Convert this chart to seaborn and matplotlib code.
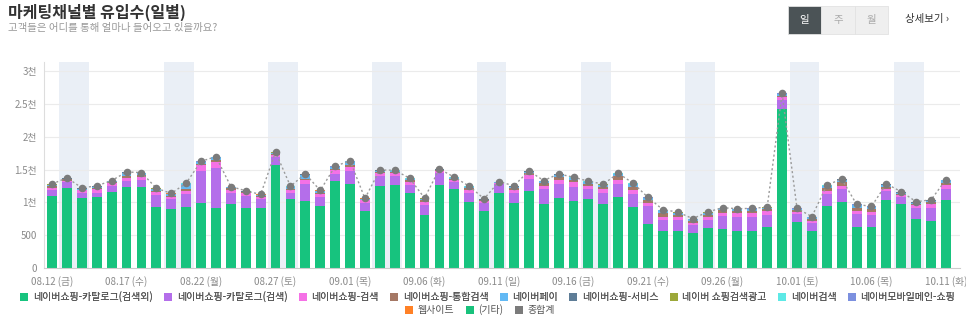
import numpy as np
import pandas as pd
import matplotlib
matplotlib.use("Agg")
import matplotlib.pyplot as plt
from matplotlib.patches import Patch, Rectangle
import seaborn as sns

sns.set_style("white")
plt.rcParams['font.family'] = ['Noto Sans CJK KR', 'DejaVu Sans']

# ---------------- data ----------------
dates = pd.date_range("2022-08-12", "2022-10-11", freq="D").strftime("%m.%d").tolist()

catalog_other = [1096, 1212, 1066, 1081, 1156, 1232, 1237, 924, 894, 929, 990, 909, 980, 909, 909, 1570,
                 1045, 1020, 944, 1323, 1273, 869, 1257, 1262, 1136, 813, 1268, 1207, 1010, 864, 1136,
                 995, 1177, 980, 1060, 1020, 1045, 980, 1081, 929, 667, 561, 561, 540, 606, 596, 561,
                 561, 626, 2419, 697, 566, 939, 1010, 626, 626, 1030, 970, 752, 722, 1030]
catalog_search = [91, 96, 80, 65, 101, 101, 111, 187, 151, 197, 495, 611, 166, 187, 136, 117,
                  91, 263, 137, 116, 212, 126, 142, 137, 126, 141, 181, 106, 136, 131, 147,
                  151, 186, 217, 223, 212, 152, 166, 192, 192, 277, 166, 171, 111, 121, 197, 217,
                  217, 187, 141, 121, 116, 182, 197, 192, 182, 142, 116, 157, 187, 177]
shop_search = [35, 25, 36, 61, 41, 40, 40, 45, 36, 51, 85, 91, 41, 40, 36, 35,
               51, 65, 40, 51, 55, 40, 50, 50, 51, 46, 31, 35, 41, 25, 15,
               41, 51, 60, 65, 76, 60, 51, 75, 61, 51, 56, 46, 41, 51, 50, 55,
               55, 51, 41, 35, 35, 51, 50, 51, 45, 35, 25, 51, 61, 55]
integrated = [26, 18, 10, 15, 12, 24, 24, 18, 18, 20, 20, 40, 25, 17, 14, 20,
              24, 14, 28, 24, 24, 8, 20, 17, 24, 30, 10, 12, 28, 13, 5,
              33, 34, 40, 44, 40, 30, 40, 50, 55, 40, 50, 35, 28, 33, 36, 34,
              36, 30, 26, 24, 30, 44, 50, 50, 40, 34, 20, 20, 30, 40]
naver_pay = [20, 12, 18, 18, 11, 55, 30, 31, 25, 84, 24, 34, 18, 12, 14, 14,
             24, 60, 21, 24, 60, 5, 14, 12, 20, 24, 8, 12, 20, 10, 3,
             20, 20, 24, 30, 24, 24, 29, 34, 44, 29, 44, 28, 20, 30, 28, 25,
             28, 23, 22, 20, 24, 34, 39, 39, 34, 30, 19, 18, 28, 34]
shop_service = [4, 4, 4, 4, 3, 4, 4, 4, 4, 4, 4, 4, 4, 4, 4, 4,
                4, 4, 4, 4, 4, 4, 4, 4, 4, 4, 4, 4, 4, 4, 4,
                4, 4, 4, 4, 4, 4, 4, 4, 4, 4, 4, 4, 4, 4, 4, 4,
                4, 4, 4, 4, 4, 4, 4, 4, 4, 4, 4, 4, 4, 4]
shop_ad = [3, 3, 3, 3, 3, 3, 3, 3, 3, 3, 3, 3, 3, 3, 3, 3,
           3, 3, 3, 3, 3, 3, 3, 3, 3, 3, 3, 3, 3, 3, 3,
           3, 3, 3, 3, 3, 3, 3, 3, 3, 3, 3, 3, 3, 3, 3, 3,
           3, 3, 3, 3, 3, 3, 3, 3, 3, 3, 3, 3, 3, 3]
naver_search = [2, 2, 2, 2, 2, 2, 2, 2, 2, 2, 2, 2, 2, 2, 2, 2,
                2, 2, 2, 2, 2, 2, 2, 2, 2, 2, 2, 2, 2, 2, 2,
                2, 2, 2, 2, 2, 2, 2, 2, 2, 2, 2, 2, 2, 2, 2, 2,
                2, 2, 2, 2, 2, 2, 2, 2, 2, 2, 2, 2, 2, 2]
mobile_main = [2, 2, 2, 2, 2, 2, 2, 2, 2, 2, 2, 2, 2, 2, 2, 2,
               2, 2, 2, 2, 2, 2, 2, 2, 2, 2, 2, 2, 2, 2, 2,
               2, 2, 2, 2, 2, 2, 2, 2, 2, 2, 2, 2, 2, 2, 2, 2,
               2, 2, 2, 2, 2, 2, 2, 2, 2, 2, 2, 2, 2, 2]
website = [1, 1, 1, 1, 1, 1, 1, 1, 1, 1, 1, 1, 1, 1, 1, 1,
           1, 1, 1, 1, 1, 1, 1, 1, 1, 1, 1, 1, 1, 1, 1,
           1, 1, 1, 1, 1, 1, 1, 1, 1, 1, 1, 1, 1, 1, 1, 1,
           1, 1, 1, 1, 1, 1, 1, 1, 1, 1, 1, 1, 1, 1]
etc = [0] * 61

series_names = ["네이버쇼핑-카탈로그(검색외)", "네이버쇼핑-카탈로그(검색)", "네이버쇼핑-검색",
                "네이버쇼핑-통합검색", "네이버페이", "네이버쇼핑-서비스", "네이버 쇼핑검색광고",
                "네이버검색", "네이버모바일메인-쇼핑", "웹사이트", "(기타)"]
series_values = [catalog_other, catalog_search, shop_search, integrated, naver_pay, shop_service,
                 shop_ad, naver_search, mobile_main, website, etc]
series_colors = ["#17C37E", "#B46EEA", "#F571E6", "#A57865", "#62B9F4", "#5E7D97",
                 "#9CA83A", "#5DE9E6", "#7C90DF", "#FF8126", "#18C27C"]
total_name = "종합계"
total_color = "#7B7B7B"

tick_labels = ["08.12 (금)", "08.17 (수)", "08.22 (월)", "08.27 (토)", "09.01 (목)", "09.06 (화)",
               "09.11 (일)", "09.16 (금)", "09.21 (수)", "09.26 (월)", "10.01 (토)", "10.06 (목)",
               "10.11 (화)"]
weekend_starts = ["08.13", "08.20", "08.27", "09.03", "09.10", "09.17", "09.24", "10.01", "10.08"]

ytick_vals = [0, 500, 1000, 1500, 2000, 2500, 3000]
ytick_labels = ["0", "500", "1천", "1.5천", "2천", "2.5천", "3천"]

# ---------------- figure ----------------
fig = plt.figure(figsize=(9.66, 3.24), dpi=100)
ax = fig.add_axes([44 / 966, 1 - 268 / 324, (960 - 44) / 966, (268 - 62) / 324])

idx = np.arange(len(dates))
vals = np.array(series_values, dtype=float)
cum = np.cumsum(vals, axis=0)
total = cum[-1]

# weekend shading
for d in weekend_starts:
    i = dates.index(d)
    ax.axvspan(i - 0.5, i + 1.5, color="#EAEFF6", zorder=0, lw=0)

# horizontal grid
for v in ytick_vals[1:]:
    ax.axhline(v, color="#EBEBEB", lw=0.8, zorder=0.5)

# stacked bars: draw cumulative heights from top layer down
df = pd.DataFrame({"idx": idx})
for k in range(len(series_names) - 1, -1, -1):
    df["h"] = cum[k]
    sns.barplot(data=df, x="idx", y="h", color=series_colors[k], width=0.66,
                saturation=1, ax=ax, zorder=2, linewidth=0, errorbar=None)

# total line
df_tot = pd.DataFrame({"x": idx, "total": total})
sns.lineplot(data=df_tot, x="x", y="total", ax=ax, color="#9A9A9A", lw=1.0,
             linestyle=(0, (1.5, 1.8)), zorder=3)
ax.scatter(idx, total, s=30, color=total_color, zorder=4, linewidths=0)

ax.set_xlim(-0.54, 60.94)
ax.set_ylim(0, 3140)
ax.set_xlabel("")
ax.set_ylabel("")

ax.set_xticks(idx[::5])
ax.set_xticklabels(tick_labels, fontsize=7, color="#8A8A8A")
ax.set_yticks(ytick_vals)
ax.set_yticklabels(ytick_labels, fontsize=7, color="#8A8A8A")
ax.tick_params(axis="x", length=3, color="#CCCCCC", pad=3)
ax.tick_params(axis="y", length=3, color="#CCCCCC", pad=2)
for s in ["top", "right"]:
    ax.spines[s].set_visible(False)
ax.spines["left"].set_color("#DDDDDD")
ax.spines["bottom"].set_color("#CCCCCC")

# legend
handles1 = [Patch(facecolor=c, edgecolor="none") for c in series_colors[:9]]
leg1 = fig.legend(handles1, series_names[:9], loc="center", bbox_to_anchor=(0.505, 1 - 297 / 324),
                  ncol=9, frameon=False, fontsize=7.2, handlelength=0.8, handleheight=0.8,
                  handletextpad=0.45, columnspacing=1.15, labelcolor="#555555")
handles2 = [Patch(facecolor=c, edgecolor="none") for c in series_colors[9:]] + \
           [Patch(facecolor=total_color, edgecolor="none")]
leg2 = fig.legend(handles2, series_names[9:] + [total_name], loc="center",
                  bbox_to_anchor=(0.497, 1 - 310 / 324), ncol=3, frameon=False, fontsize=7.2,
                  handlelength=0.8, handleheight=0.8, handletextpad=0.45, columnspacing=1.15,
                  labelcolor="#555555")
fig.add_artist(leg1)

# header texts
fig.text(8 / 966, 1 - 12 / 324, "마케팅채널별 유입수(일별)", fontsize=11.5, color="#333333",
         fontweight="bold", va="center", ha="left")
fig.text(8 / 966, 1 - 28 / 324, "고객들은 어디를 통해 얼마나 들어오고 있을까요?", fontsize=7.5,
         color="#999999", va="center", ha="left")

# period buttons
btns = [("일", 788, 821, "#4B5356", "#FFFFFF"), ("주", 821, 855, "#EFEFEF", "#AAAAAA"),
        ("월", 855, 888, "#EFEFEF", "#AAAAAA")]
for lab, x0, x1, bg, fg in btns:
    fig.patches.append(Rectangle((x0 / 966, 1 - 34 / 324), (x1 - x0) / 966, 28 / 324,
                                 transform=fig.transFigure, facecolor=bg,
                                 edgecolor="#E2E2E2", lw=0.6))
    fig.text((x0 + x1) / 2 / 966, 1 - 20 / 324, lab, fontsize=7.5, color=fg,
             ha="center", va="center")
fig.text(905 / 966, 1 - 19 / 324, "상세보기 ›", fontsize=7.5, color="#333333",
         ha="left", va="center")

fig.savefig("out.png", dpi=100)
